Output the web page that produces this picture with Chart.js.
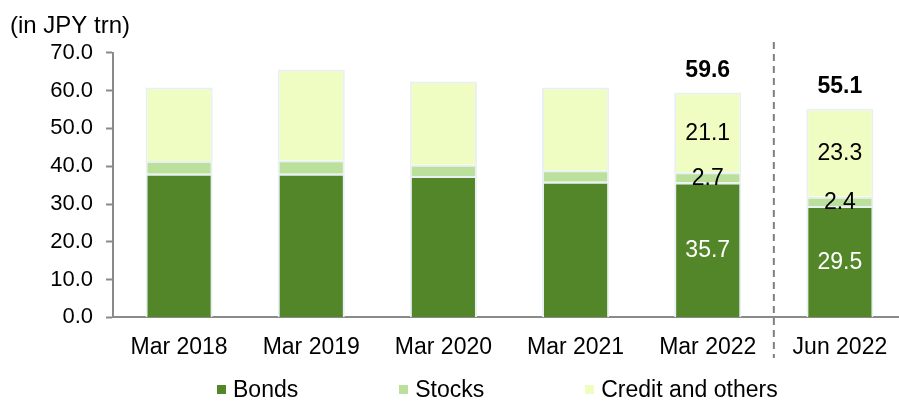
<!DOCTYPE html>
<html>
<head>
<meta charset="utf-8">
<script src="https://cdn.jsdelivr.net/npm/chart.js@4"></script>
<style>
    body { margin: 0; overflow: hidden; background: #fff; font-family: "Liberation Sans", Arial, sans-serif; }
    #wrap { position: relative; width: 906px; height: 401px; }
    #legend { position: absolute; left: 217px; top: 376px; display: flex; gap: 101px; font-size: 23px; color: #000; }
    #legend span.item { display: flex; align-items: center; white-space: nowrap; }
    #legend span.box { width: 9px; height: 9px; margin-right: 7px; display: inline-block; }
</style>
</head>
<body>
<div id="wrap">
    <canvas id="assetsChart"></canvas>
    <div id="legend"></div>
</div>
<script>
const categories = ['Mar 2018', 'Mar 2019', 'Mar 2020', 'Mar 2021', 'Mar 2022', 'Jun 2022'];
const bonds = [38.0, 38.0, 37.4, 35.9, 35.7, 29.5];
const stocks = [3.4, 3.6, 3.0, 3.0, 2.7, 2.4];
const creditOthers = [19.4, 24.0, 22.0, 21.9, 21.1, 23.3];
const totals = [null, null, null, null, 59.6, 55.1];
const showValues = [false, false, false, false, true, true];
const yTicks = [0, 10, 20, 30, 40, 50, 60, 70];

const FONT = '"Liberation Sans", Arial, sans-serif';
const axisGrey = '#8a8a8a';

// values inside the segments + bold totals on top
const valueLabels = {
    id: 'valueLabels',
    afterDatasetsDraw(chart) {
        const ctx = chart.ctx;
        const yScale = chart.scales.y;
        ctx.save();
        ctx.textAlign = 'center';
        ctx.textBaseline = 'middle';
        chart.data.datasets.forEach((ds, i) => {
            const meta = chart.getDatasetMeta(i);
            meta.data.forEach((bar, j) => {
                if (!showValues[j]) return;
                ctx.font = '23px ' + FONT;
                ctx.fillStyle = i === 0 ? '#ffffff' : '#000000';
                ctx.fillText(ds.data[j].toFixed(1), bar.x, (bar.y + bar.base) / 2 + 1);
            });
        });
        const last = chart.getDatasetMeta(chart.data.datasets.length - 1);
        totals.forEach((t, j) => {
            if (t === null) return;
            const sum = bonds[j] + stocks[j] + creditOthers[j];
            ctx.font = 'bold 23px ' + FONT;
            ctx.fillStyle = '#000000';
            ctx.fillText(t.toFixed(1), last.data[j].x, yScale.getPixelForValue(sum) - 22);
        });
        ctx.restore();
    }
};

// dashed separator between Mar 2022 and Jun 2022
const separator = {
    id: 'separator',
    afterDatasetsDraw(chart) {
        const x = chart.scales.x;
        const px = (x.getPixelForValue(4) + x.getPixelForValue(5)) / 2;
        const ctx = chart.ctx;
        ctx.save();
        ctx.strokeStyle = '#7f7f7f';
        ctx.lineWidth = 2;
        ctx.setLineDash([7, 5]);
        ctx.beginPath();
        ctx.moveTo(px, 42);
        ctx.lineTo(px, 358);
        ctx.stroke();
        ctx.restore();
    }
};

const ctx = document.getElementById('assetsChart').getContext('2d');
const chart = new Chart(ctx, {
    type: 'bar',
    data: {
        labels: categories,
        datasets: [
            { label: 'Bonds', data: bonds, backgroundColor: '#538628' },
            { label: 'Stocks', data: stocks, backgroundColor: '#bbe09b' },
            { label: 'Credit and others', data: creditOthers, backgroundColor: '#effcc2' }
        ]
    },
    options: {
        responsive: true,
        maintainAspectRatio: false,
        animation: false,
        devicePixelRatio: 1,
        layout: { padding: { left: 10, right: 0, top: 0, bottom: 32 } },
        datasets: {
            bar: {
                barPercentage: 0.508,
                categoryPercentage: 1,
                borderColor: '#e9f0f4',
                borderWidth: 2
            }
        },
        scales: {
            x: {
                stacked: true,
                grid: { display: false },
                border: { color: axisGrey, width: 2 },
                ticks: { color: '#000', padding: 8, font: { family: FONT, size: 23 }, maxRotation: 0 }
            },
            y: {
                stacked: true,
                min: 0,
                max: 70,
                afterFit(scale) { scale.width = 103; },
                afterBuildTicks(scale) { scale.ticks = yTicks.map(v => ({ value: v })); },
                grid: { drawOnChartArea: false, drawTicks: true, tickLength: 7, color: axisGrey, tickWidth: 2 },
                border: { color: axisGrey, width: 2 },
                ticks: {
                    color: '#000',
                    padding: 13,
                    font: { family: FONT, size: 22 },
                    callback: v => Number(v).toFixed(1)
                }
            }
        },
        plugins: {
            legend: { display: false },
            tooltip: { enabled: false },
            title: {
                display: true,
                text: '(in JPY trn)',
                align: 'start',
                color: '#000',
                font: { family: FONT, size: 24, weight: 'normal' },
                padding: { top: 12, bottom: 12 }
            }
        }
    },
    plugins: [valueLabels, separator]
});

// legend built from the chart's datasets
const legendEl = document.getElementById('legend');
chart.data.datasets.forEach(ds => {
    const item = document.createElement('span');
    item.className = 'item';
    item.innerHTML = `<span class="box" style="background:${ds.backgroundColor}"></span>${ds.label}`;
    legendEl.appendChild(item);
});
</script>
</body>
</html>
